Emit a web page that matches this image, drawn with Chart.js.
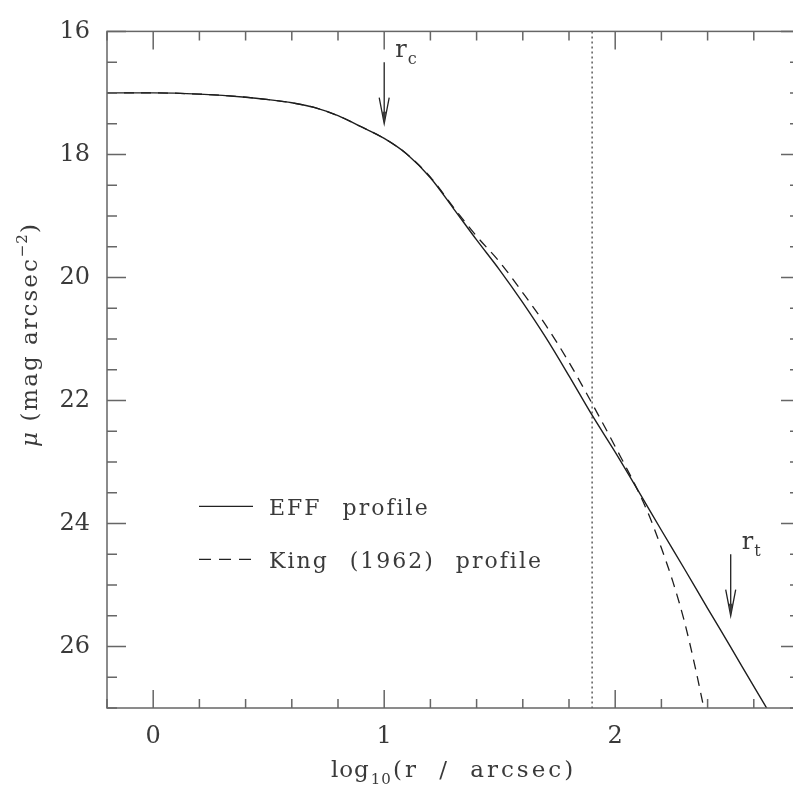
<!DOCTYPE html>
<html>
<head>
<meta charset="utf-8">
<script src="https://cdn.jsdelivr.net/npm/chart.js@4.4.1/dist/chart.umd.min.js"></script>
<style>
    html, body { margin: 0; padding: 0; background: #fff; overflow: hidden; }
    #wrap { width: 820px; height: 786px; }
</style>
</head>
<body>
<div id="wrap"><canvas id="profile-chart" width="820" height="786"></canvas></div>
<script>
// log10(r / arcsec) và độ sáng bề mặt mu (mag arcsec^-2)
const effLogR = [-0.2, 0.0, 0.2, 0.4, 0.5, 0.6, 0.7, 0.8, 0.9, 1.0, 1.1, 1.2, 1.3, 1.4, 1.5, 1.6, 1.7, 1.8, 1.9, 2.0, 2.1, 2.2, 2.3, 2.4, 2.5, 2.6, 2.7];
const effMu   = [17.00, 17.00, 17.02, 17.07, 17.11, 17.16, 17.24, 17.37, 17.55, 17.74, 18.00, 18.38, 18.88, 19.39, 19.88, 20.41, 20.98, 21.60, 22.24, 22.84, 23.47, 24.11, 24.74, 25.38, 26.01, 26.65, 27.28];

const kingLogR = [-0.2, 0.0, 0.2, 0.4, 0.5, 0.6, 0.7, 0.8, 0.9, 1.0, 1.1, 1.2, 1.3, 1.4, 1.5, 1.6, 1.7, 1.8, 1.9, 2.0, 2.1, 2.15, 2.2, 2.25, 2.3, 2.35, 2.4];
const kingMu   = [17.00, 17.00, 17.02, 17.07, 17.11, 17.16, 17.24, 17.37, 17.55, 17.74, 18.00, 18.37, 18.86, 19.33, 19.75, 20.25, 20.78, 21.38, 22.05, 22.75, 23.48, 23.90, 24.40, 24.95, 25.60, 26.40, 27.30];

const seriesNames = ['EFF profile', 'King (1962) profile'];

// đường chấm dọc
const cutLogR = 1.9;

// mũi tên r_c, r_t
const arrowLogR = [1.0, 2.5];
const arrowFrom = [16.5, 24.5];
const arrowTo   = [17.5, 25.5];
const arrowSub  = ['c', 't'];

// trục
const xTickValues = [0, 1, 2];
const yTickValues = [16, 18, 20, 22, 24, 26];
const xRange = [-0.2, 2.8];
const yRange = [16, 27];

const FONT = 'DejaVu Serif';
const INK = '#3a3a3a';

function toPoints(xs, ys) {
    return xs.map((x, i) => ({ x: x, y: ys[i] }));
}

function spaced(ctx, letter, word) {
    if ('letterSpacing' in ctx) ctx.letterSpacing = letter + 'px';
    if ('wordSpacing' in ctx) ctx.wordSpacing = word + 'px';
}

// Vẽ khung, vạch chia, mũi tên, chú thích và tên trục
const decorPlugin = {
    id: 'decor',
    afterDatasetsDraw(chart) {
        const ctx = chart.ctx;
        const a = chart.chartArea;
        const xs = chart.scales.x;
        const ys = chart.scales.y;

        ctx.save();
        ctx.strokeStyle = '#666';
        ctx.lineWidth = 1.5;
        ctx.strokeRect(a.left, a.top, a.right - a.left, a.bottom - a.top);

        // vạch chia trục x (phụ mỗi 0.2)
        ctx.beginPath();
        for (let i = 0; i <= 15; i++) {
            const v = xRange[0] + i * 0.2;
            const px = xs.getPixelForValue(v);
            const major = Math.abs(v - Math.round(v)) < 1e-6;
            const len = major ? 18 : 9;
            ctx.moveTo(px, a.bottom); ctx.lineTo(px, a.bottom - len);
            ctx.moveTo(px, a.top); ctx.lineTo(px, a.top + len);
        }
        // vạch chia trục y (phụ mỗi 0.5)
        for (let i = 0; i <= 22; i++) {
            const v = yRange[0] + i * 0.5;
            const py = ys.getPixelForValue(v);
            const major = v % 2 === 0;
            const len = major ? 19 : 10;
            ctx.moveTo(a.left, py); ctx.lineTo(a.left + len, py);
            ctx.moveTo(a.right, py); ctx.lineTo(a.right - len, py);
        }
        ctx.stroke();

        // mũi tên
        ctx.strokeStyle = '#222';
        ctx.fillStyle = INK;
        ctx.lineWidth = 1.3;
        arrowLogR.forEach((v, i) => {
            const px = xs.getPixelForValue(v);
            const y0 = ys.getPixelForValue(arrowFrom[i]);
            const y1 = ys.getPixelForValue(arrowTo[i]);
            ctx.beginPath();
            ctx.moveTo(px, y0); ctx.lineTo(px, y1);
            ctx.moveTo(px - 5, y1 - 26); ctx.lineTo(px, y1); ctx.lineTo(px + 5, y1 - 26);
            ctx.stroke();
            ctx.beginPath();
            ctx.moveTo(px - 2, y1 - 12); ctx.lineTo(px, y1); ctx.lineTo(px + 2, y1 - 12);
            ctx.fill();

            ctx.textAlign = 'left';
            ctx.textBaseline = 'alphabetic';
            ctx.font = '24px "' + FONT + '"';
            ctx.fillText('r', px + 11, y0 - 5);
            const w = ctx.measureText('r').width;
            ctx.font = '16px "' + FONT + '"';
            ctx.fillText(arrowSub[i], px + 12 + w, y0 + 2);
        });

        // chú thích
        ctx.lineWidth = 1.3;
        const lx0 = a.left + 92, lx1 = a.left + 146;
        const rows = [a.top + 475, a.top + 528];
        ctx.beginPath();
        ctx.moveTo(lx0, rows[0]); ctx.lineTo(lx1, rows[0]);
        ctx.stroke();
        ctx.setLineDash([12, 8]);
        ctx.beginPath();
        ctx.moveTo(lx0, rows[1]); ctx.lineTo(lx1, rows[1]);
        ctx.stroke();
        ctx.setLineDash([]);
        ctx.font = '22px "' + FONT + '"';
        spaced(ctx, 2, 12);
        seriesNames.forEach((name, i) => {
            ctx.fillText(name, a.left + 162, rows[i] + 9);
        });

        // tên trục x: log10(r / arcsec)
        const cx = (a.left + a.right) / 2;
        const base = 777;
        ctx.font = '23px "' + FONT + '"';
        spaced(ctx, 1, 0);
        const wLog = ctx.measureText('log').width;
        ctx.font = '15px "' + FONT + '"';
        const wSub = ctx.measureText('10').width;
        ctx.font = '23px "' + FONT + '"';
        spaced(ctx, 3, 10);
        const wRest = ctx.measureText('(r / arcsec)').width;
        let x = cx - (wLog + wSub + 2 + wRest) / 2;
        spaced(ctx, 1, 0);
        ctx.fillText('log', x, base);
        x += wLog + 1;
        ctx.font = '15px "' + FONT + '"';
        ctx.fillText('10', x, base + 7);
        x += wSub + 1;
        ctx.font = '23px "' + FONT + '"';
        spaced(ctx, 3, 10);
        ctx.fillText('(r / arcsec)', x, base);

        // tên trục y: mu (mag arcsec^-2)
        ctx.translate(29, 335);
        ctx.rotate(-Math.PI / 2);
        ctx.font = 'italic 23px "' + FONT + '"';
        spaced(ctx, 1, 0);
        const wMu = ctx.measureText('\u03bc').width;
        ctx.font = '23px "' + FONT + '"';
        spaced(ctx, 2, 12);
        const wMid = ctx.measureText(' (mag arcsec').width;
        ctx.font = '15px "' + FONT + '"';
        spaced(ctx, 1, 0);
        const wSup = ctx.measureText('\u22122').width;
        ctx.font = '23px "' + FONT + '"';
        const wEnd = ctx.measureText(')').width;
        let t = -(wMu + wMid + wSup + wEnd) / 2;
        const bl = 8;
        ctx.font = 'italic 23px "' + FONT + '"';
        ctx.fillText('\u03bc', t, bl); t += wMu;
        ctx.font = '23px "' + FONT + '"';
        spaced(ctx, 2, 12);
        ctx.fillText(' (mag arcsec', t, bl); t += wMid;
        ctx.font = '15px "' + FONT + '"';
        spaced(ctx, 1, 0);
        ctx.fillText('\u22122', t, bl - 10); t += wSup;
        ctx.font = '23px "' + FONT + '"';
        ctx.fillText(')', t, bl);
        ctx.restore();
    }
};

const profileCtx = document.getElementById('profile-chart').getContext('2d');
const profileChart = new Chart(profileCtx, {
    type: 'scatter',
    data: {
        datasets: [
            {
                label: seriesNames[0],
                data: toPoints(effLogR, effMu),
                showLine: true,
                borderColor: '#1e1e1e',
                borderWidth: 1.4,
                pointRadius: 0,
                cubicInterpolationMode: 'monotone'
            },
            {
                label: seriesNames[1],
                data: toPoints(kingLogR, kingMu),
                showLine: true,
                borderColor: '#1e1e1e',
                borderWidth: 1.3,
                borderDash: [10, 7],
                pointRadius: 0,
                cubicInterpolationMode: 'monotone'
            },
            {
                label: 'cut',
                data: [{ x: cutLogR, y: yRange[0] }, { x: cutLogR, y: yRange[1] }],
                showLine: true,
                borderColor: '#333',
                borderWidth: 1.2,
                borderDash: [2, 3],
                pointRadius: 0
            }
        ]
    },
    options: {
        responsive: false,
        animation: false,
        layout: { padding: { left: 0, top: 15, right: 20, bottom: 0 } },
        plugins: {
            legend: { display: false },
            tooltip: { enabled: false }
        },
        scales: {
            x: {
                type: 'linear',
                min: xRange[0],
                max: xRange[1],
                grid: { display: false, drawTicks: false },
                border: { display: false },
                afterBuildTicks: function (scale) {
                    scale.ticks = xTickValues.map(v => ({ value: v }));
                },
                afterFit: function (scale) {
                    scale.height = 78;
                },
                ticks: {
                    font: { family: FONT, size: 24 },
                    color: INK,
                    padding: 14,
                    maxRotation: 0,
                    autoSkip: false,
                    callback: function (value) { return String(value); }
                }
            },
            y: {
                type: 'linear',
                reverse: true,
                min: yRange[0],
                max: yRange[1],
                grid: { display: false, drawTicks: false },
                border: { display: false },
                afterBuildTicks: function (scale) {
                    scale.ticks = yTickValues.map(v => ({ value: v }));
                },
                afterFit: function (scale) {
                    scale.width = 107;
                },
                ticks: {
                    font: { family: FONT, size: 24 },
                    color: INK,
                    padding: 17,
                    autoSkip: false,
                    callback: function (value) { return String(value); }
                }
            }
        }
    },
    plugins: [decorPlugin]
});
</script>
</body>
</html>
